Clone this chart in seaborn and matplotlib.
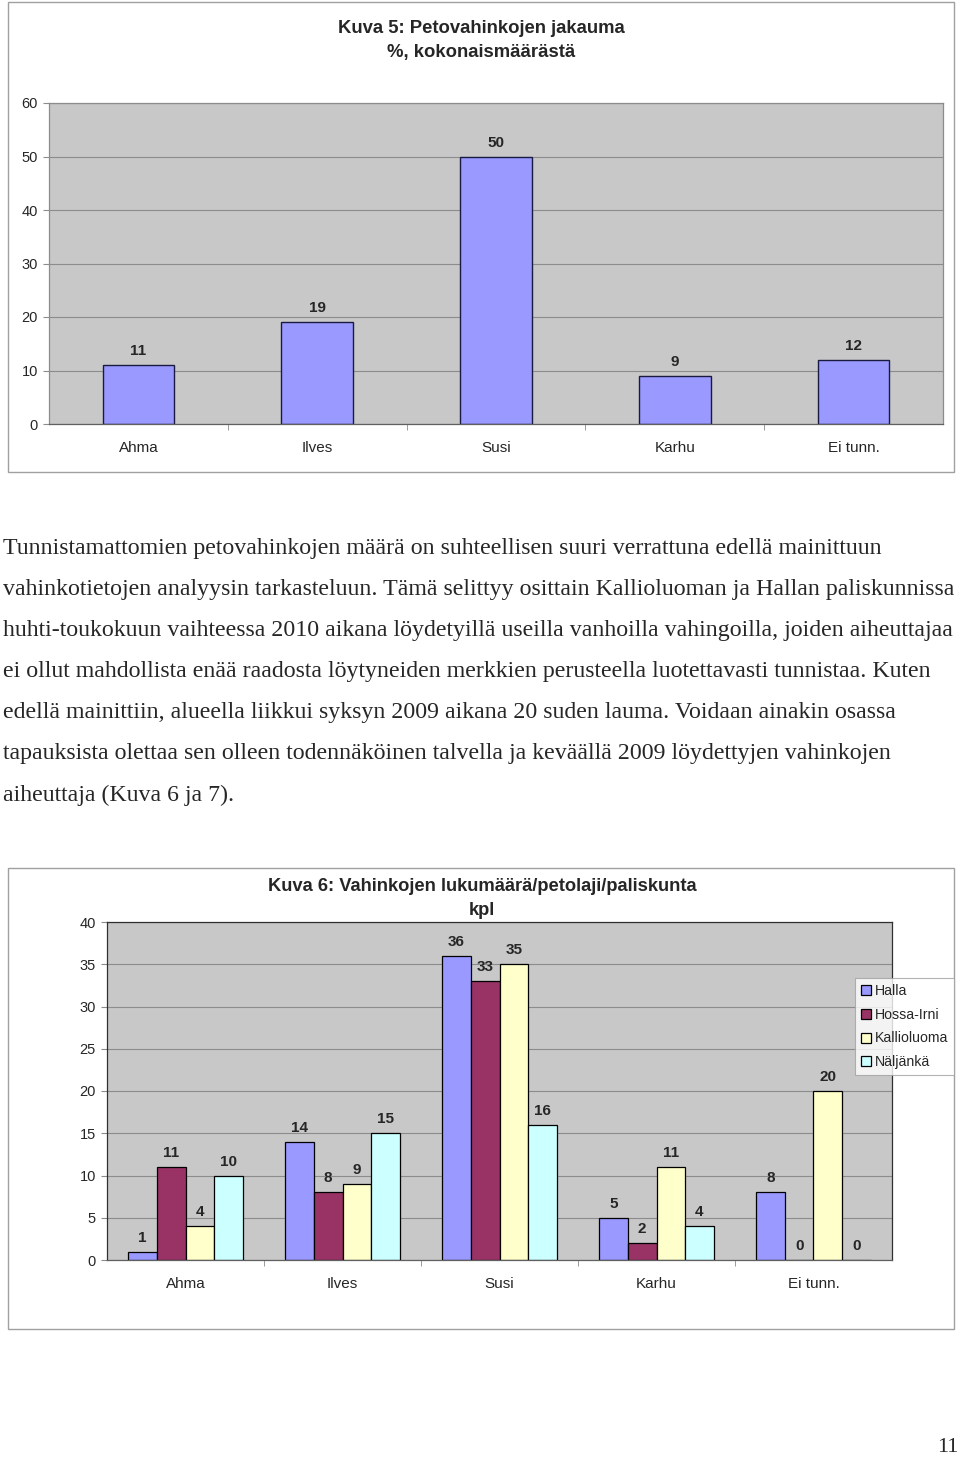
"""Petovahingot: two Excel-style bar charts with the paragraph between them."""

import matplotlib

matplotlib.use("Agg")
import matplotlib.pyplot as plt
import pandas as pd
import seaborn as sns
from matplotlib.patches import Rectangle

# ---- data -----------------------------------------------------------------
lajit = ["Ahma", "Ilves", "Susi", "Karhu", "Ei tunn."]
osuus_pct = [11, 19, 50, 9, 12]

paliskunnat = ["Halla", "Hossa-Irni", "Kallioluoma", "Näljänkä"]
halla = [1, 14, 36, 5, 8]
hossa_irni = [11, 8, 33, 2, 0]
kallioluoma = [4, 9, 35, 11, 20]
naljanka = [10, 15, 16, 4, 0]

title5 = "Kuva 5: Petovahinkojen jakauma\n%, kokonaismäärästä"
title6 = "Kuva 6: Vahinkojen lukumäärä/petolaji/paliskunta\nkpl"

paragraph = [
    "Tunnistamattomien petovahinkojen määrä on suhteellisen suuri verrattuna edellä mainittuun",
    "vahinkotietojen analyysin tarkasteluun. Tämä selittyy osittain Kallioluoman ja Hallan paliskunnissa",
    "huhti-toukokuun vaihteessa 2010 aikana löydetyillä useilla vanhoilla vahingoilla, joiden aiheuttajaa",
    "ei ollut mahdollista enää raadosta löytyneiden merkkien perusteella luotettavasti tunnistaa. Kuten",
    "edellä mainittiin, alueella liikkui syksyn 2009 aikana 20 suden lauma. Voidaan ainakin osassa",
    "tapauksista olettaa sen olleen todennäköinen talvella ja keväällä 2009 löydettyjen vahinkojen",
    "aiheuttaja (Kuva 6 ja 7).",
]
page_no = "11"

colors = ["#9999FF", "#993366", "#FFFFCC", "#CCFFFF"]
PLOT_BG = "#C8C8C8"
GRID = "#8C8C8C"

W, H = 960, 1457

sns.set_style("white")
plt.rcParams["font.family"] = ["Liberation Sans", "DejaVu Sans"]


def px_axes(fig, x0, y0, x1, y1):
    return fig.add_axes([x0 / W, 1 - y1 / H, (x1 - x0) / W, (y1 - y0) / H])


def frame(fig, x0, y0, x1, y1):
    fig.patches.append(
        Rectangle((x0 / W, 1 - y1 / H), (x1 - x0) / W, (y1 - y0) / H,
                  transform=fig.transFigure, fill=False,
                  edgecolor="#A0A0A0", linewidth=1.0)
    )


def style_axes(ax, ymax, step, border):
    ax.set_facecolor(PLOT_BG)
    ax.set_ylim(0, ymax)
    ax.set_xlim(-0.5, len(lajit) - 0.5)
    ax.set_yticks(range(0, ymax + 1, step))
    ax.yaxis.grid(True, color=GRID, linewidth=0.8)
    ax.set_axisbelow(True)
    for side in ["top", "right", "left", "bottom"]:
        ax.spines[side].set_visible(True)
        ax.spines[side].set_color(border)
        ax.spines[side].set_linewidth(0.9)
    ax.spines["bottom"].set_color("#606060")
    ax.set_xlabel("")
    ax.set_ylabel("")
    ax.tick_params(axis="y", labelsize=10.5, length=4, color=GRID, left=True, pad=4)
    ax.tick_params(axis="x", which="major", labelsize=11, length=0, pad=12)
    ax.set_xticks([i + 0.5 for i in range(len(lajit) - 1)], minor=True)
    ax.tick_params(axis="x", which="minor", length=4, color=GRID, bottom=True)


fig = plt.figure(figsize=(W / 100, H / 100), dpi=100)

# ---- Kuva 5 -----------------------------------------------------------------
frame(fig, 8, 2, 954, 472)
ax1 = px_axes(fig, 49, 103, 943, 424)
sns.barplot(x=lajit, y=osuus_pct, color=colors[0], saturation=1, width=0.4,
            edgecolor="#1a1a40", linewidth=1.0, ax=ax1)
style_axes(ax1, 60, 10, GRID)
for cont in ax1.containers:
    ax1.bar_label(cont, padding=5, fontsize=11, fontweight="bold")
fig.text(481 / W, 1 - 40.5 / H, title5, ha="center", va="center",
         fontsize=13.3, fontweight="bold", linespacing=1.5)

# ---- paragraph --------------------------------------------------------------
for i, line in enumerate(paragraph):
    y = 548 + i * 41.2
    fig.text(3 / W, 1 - y / H, line, ha="left", va="center",
             fontsize=17.2, family=["Liberation Serif", "DejaVu Serif"])

# ---- Kuva 6 -----------------------------------------------------------------
frame(fig, 8, 868, 954, 1329)
ax2 = px_axes(fig, 107, 922, 892, 1260)
df = pd.DataFrame({
    "laji": lajit * 4,
    "paliskunta": sum([[p] * len(lajit) for p in paliskunnat], []),
    "kpl": halla + hossa_irni + kallioluoma + naljanka,
})
sns.barplot(data=df, x="laji", y="kpl", hue="paliskunta", order=lajit,
            hue_order=paliskunnat, palette=colors, saturation=1, width=0.73,
            gap=0, edgecolor="black", linewidth=0.9, ax=ax2)
style_axes(ax2, 40, 5, "#303030")
for cont in ax2.containers:
    ax2.bar_label(cont, padding=5, fontsize=11, fontweight="bold")
fig.text(482 / W, 1 - 898.5 / H, title6, ha="center", va="center",
         fontsize=13.2, fontweight="bold", linespacing=1.5)

handles, labels = ax2.get_legend_handles_labels()
ax2.get_legend().remove()
leg = fig.legend(handles, labels, loc="upper left",
                 bbox_to_anchor=(855 / W, 1 - 978 / H), frameon=True,
                 fancybox=False, edgecolor="#A0A0A0", fontsize=10.2,
                 handlelength=0.7, handleheight=0.7, handletextpad=0.3,
                 labelspacing=0.7, borderpad=0.4, borderaxespad=0)
leg.get_frame().set_linewidth(0.8)

fig.text(948 / W, 1 - 1447 / H, page_no, ha="center", va="center",
         fontsize=16, family=["Liberation Serif", "DejaVu Serif"])

fig.savefig("out.png", dpi=100, facecolor="white")
